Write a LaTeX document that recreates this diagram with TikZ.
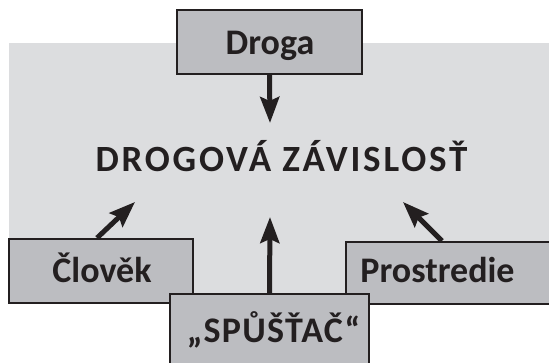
\documentclass[tikz,border=0pt]{standalone}
\usepackage{fontspec}
\setmainfont{Carlito}
\newfontfamily\titlefont[LetterSpace=7.5]{Carlito}
\newfontfamily\capsfont[LetterSpace=3.5]{Carlito}
\usetikzlibrary{arrows.meta}
\definecolor{bgray}{HTML}{DCDDDF}
\definecolor{boxgray}{HTML}{BCBDC1}
\definecolor{ink}{HTML}{231F20}
\tikzset{
  box/.style={draw=ink, line width=2pt, fill=boxgray, inner sep=0pt},
  lbl/.style={font=\bfseries\fontsize{36}{40}\selectfont, text=ink, inner sep=0pt, anchor=base},
  title/.style={font=\titlefont\bfseries\fontsize{37}{42}\selectfont, text=ink, inner sep=0pt, anchor=base},
  arr/.style={draw=ink, line width=5pt, -{Stealth[length=26pt,width=19pt,inset=4pt]}}
}
\begin{document}
\begin{tikzpicture}[x=1pt,y=1pt]
\useasboundingbox (0,0) rectangle (549,363);
\fill[bgray] (9,60) rectangle (560,320);
% boxes
\node[box, minimum width=185pt, minimum height=64pt] (droga) at (269.5,321) {};
\node[box, minimum width=184pt, minimum height=64pt] (clovek) at (101,92) {};
\node[box, minimum width=210pt, minimum height=62pt] (prostr) at (451,90) {};
\node[box, minimum width=199pt, minimum height=98pt] (spust) at (269.5,20) {};
% labels
\node[lbl] (tdroga) at (270,308) {Droga};
\node[lbl] (tclovek) at (102,80) {Člověk};
\node[lbl] (tprostr) at (437.5,80) {Prostredie};
\node[lbl, font=\capsfont\bfseries\fontsize{36}{40}\selectfont] (tspust) at (273.5,20) {„SPŮŠŤAČ“};
\node[title] (main) at (281.5,191) {DROGOVÁ ZÁVISLOSŤ};
% arrow end points
\coordinate (e1) at (270,240);
\coordinate (e2) at (135,161);
\coordinate (e3) at (270,146);
\coordinate (e4) at (403,161);
\draw[arr] (droga.south) -- (e1);
\draw[arr] ([xshift=-4pt]clovek.north) -- (e2);
\draw[arr] (spust.north) -- (e3);
\draw[arr] ([xshift=-9pt]prostr.north) -- (e4);
\end{tikzpicture}
\end{document}
